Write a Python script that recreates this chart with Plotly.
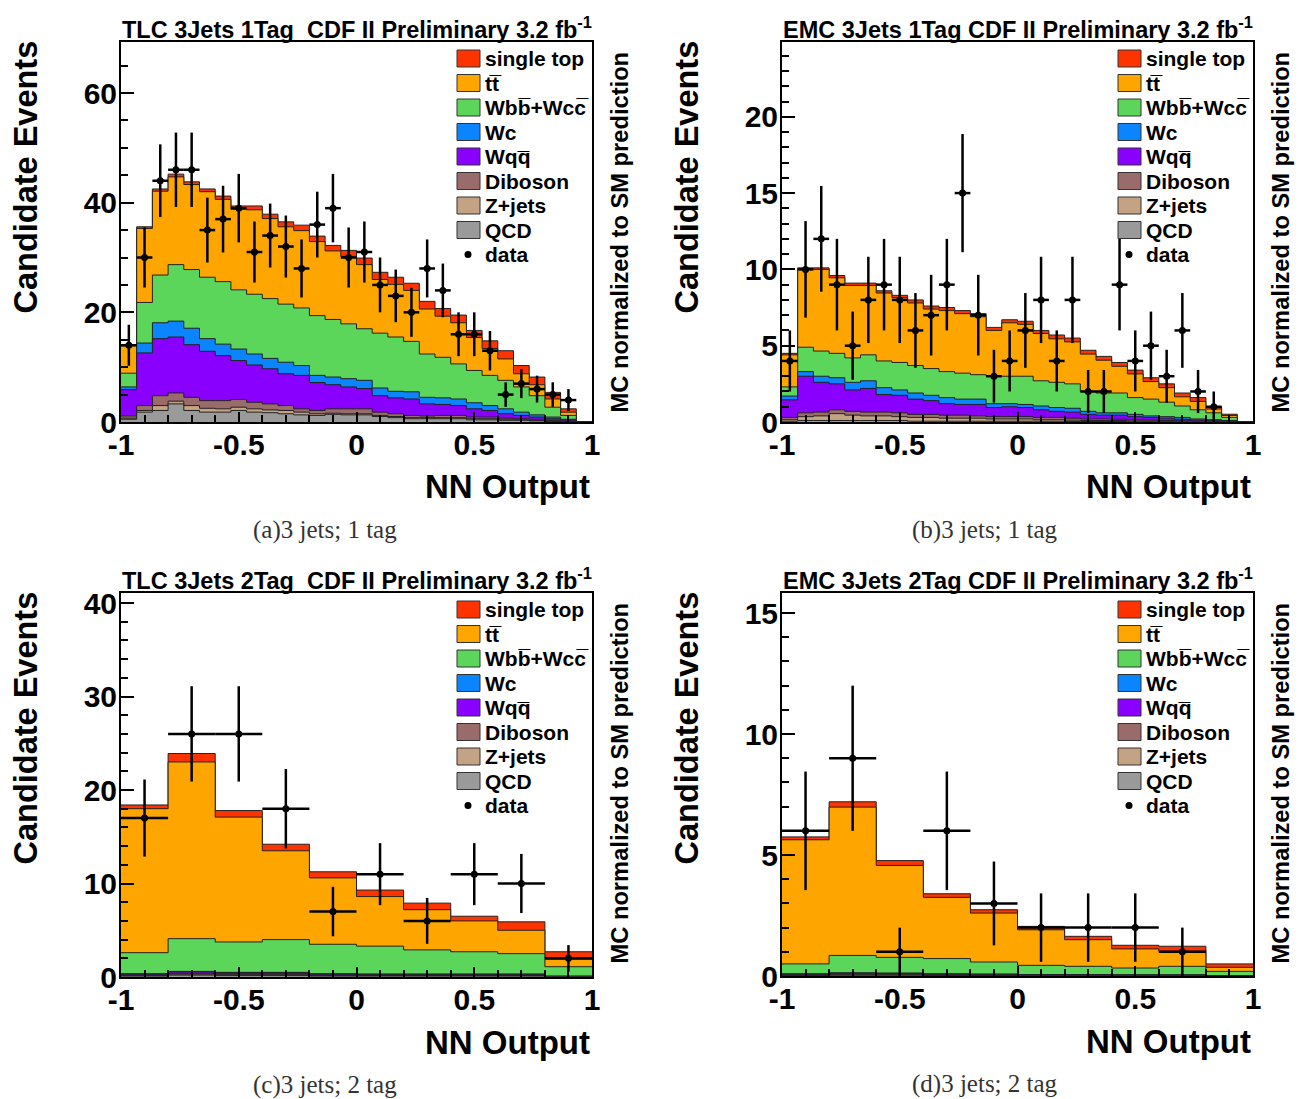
import numpy as np
import plotly.graph_objects as go

W, H = 1305, 1099

# ---------------- process order (bottom of the stack first) ----------------
PROCS = ["QCD", "Z+jets", "Diboson", "Wqq", "Wc", "Wbb", "tt", "single top"]
COLORS = {
    "QCD": "#9a9a9a",
    "Z+jets": "#c4a284",
    "Diboson": "#9a6b6b",
    "Wqq": "#8a00ff",
    "Wc": "#0a85ff",
    "Wbb": "#5bd65b",
    "tt": "#ffa500",
    "single top": "#ff3300",
}

# ---------------- (a) TLC 3 jets, 1 tag : 30 bins ----------------
a_qcd = [0.5, 1.8, 2.1, 3.3, 2.1, 1.8, 1.8, 2.1, 1.8, 1.7, 1.5, 1.3, 1.2, 1.4, 1.3,
         1.3, 1.0, 0.8, 0.6, 0.6, 0.6, 0.6, 0.4, 0.4, 0.3, 0.3, 0.2, 0.1, 0.05, 0]
a_zjets = [0.2, 0.3, 0.9, 0.5, 0.9, 0.7, 0.6, 0.6, 0.6, 0.5, 0.6, 0.5, 0.3, 0.2, 0.2,
           0.2, 0.2, 0.2, 0.2, 0.2, 0.2, 0.2, 0.2, 0.2, 0.2, 0.1, 0.1, 0.1, 0.05, 0]
a_diboson = [0.4, 0.9, 1.8, 1.5, 1.5, 1.4, 1.5, 1.4, 1.2, 1.1, 0.9, 0.6, 0.6, 0.8, 0.9,
             0.9, 0.6, 0.5, 0.4, 0.3, 0.4, 0.4, 0.3, 0.3, 0.2, 0.2, 0.2, 0.1, 0.05, 0]
a_wqq = [4.8, 9.6, 10.4, 10.2, 9.6, 9.0, 8.2, 7.1, 6.8, 6.4, 5.8, 6.1, 5.1, 4.4, 4.0,
         3.7, 3.0, 2.9, 3.0, 2.2, 2.0, 1.8, 1.5, 1.2, 0.8, 0.6, 0.4, 0.3, 0.2, 0]
a_wc = [0.5, 1.8, 2.9, 2.9, 3.0, 2.3, 2.1, 2.1, 2.0, 1.9, 2.1, 1.8, 1.3, 1.4, 1.5,
        1.5, 1.4, 1.2, 1.3, 1.2, 1.2, 1.2, 1.1, 0.9, 0.9, 0.6, 0.4, 0.3, 0.15, 0]
a_wbb = [2.5, 7.4, 8.7, 10.3, 10.7, 11.2, 11.4, 10.8, 10.9, 10.9, 10.6, 10.5, 10.9, 10.5, 10.0,
         9.4, 10.0, 9.9, 9.2, 7.9, 7.4, 6.4, 5.9, 5.5, 5.2, 4.6, 3.5, 1.8, 0.7, 0]
a_tt = [5.0, 13.5, 15.3, 16.0, 15.5, 15.6, 15.0, 14.7, 15.4, 14.6, 14.1, 14.1, 13.5, 12.5, 12.3,
        11.7, 9.8, 9.6, 9.3, 8.2, 7.5, 7.5, 6.0, 4.9, 3.9, 2.4, 2.0, 1.5, 0.6, 0]
a_stop = [0.2, 0.3, 0.4, 0.5, 0.5, 0.5, 0.6, 0.6, 0.7, 0.8, 0.9, 1.0, 1.0, 1.0, 1.1,
          1.2, 1.3, 1.3, 1.3, 1.4, 1.4, 1.4, 1.3, 1.4, 1.5, 1.5, 1.4, 1.2, 0.6, 0]
a_data = [14, 30, 44, 46, 46, 35, 37, 39, 31, 34, 32, 28, 36, 39, 30,
          31, 25, 23, 20, 28, 24, 16, 16, 13, 5, 7, 6, 5, 4, None]

# ---------------- (b) EMC 3 jets, 1 tag : 30 bins ----------------
b_qcd = [0.05, 0.1, 0.1, 0.1, 0.1, 0.1, 0.1, 0.1, 0.05, 0.05, 0.05, 0.05, 0.05, 0.05, 0.05,
         0.05, 0.05, 0.05, 0.03, 0.03, 0.03, 0.03, 0.02, 0.02, 0.02, 0.01, 0.01, 0.01, 0.01, 0]
b_zjets = [0.1, 0.25, 0.3, 0.45, 0.35, 0.3, 0.3, 0.25, 0.25, 0.25, 0.2, 0.2, 0.2, 0.15, 0.15,
           0.15, 0.1, 0.1, 0.09, 0.07, 0.07, 0.07, 0.06, 0.05, 0.04, 0.04, 0.03, 0.01, 0, 0]
b_diboson = [0.15, 0.25, 0.25, 0.25, 0.25, 0.25, 0.25, 0.25, 0.2, 0.2, 0.2, 0.2, 0.15, 0.15, 0.15,
             0.15, 0.15, 0.15, 0.13, 0.1, 0.1, 0.08, 0.07, 0.06, 0.04, 0.03, 0.02, 0.02, 0.01, 0]
b_wqq = [1.15, 2.4, 1.95, 1.7, 1.4, 1.55, 1.15, 1.15, 1.0, 0.9, 0.75, 0.7, 0.75, 0.6, 0.65,
         0.6, 0.5, 0.4, 0.4, 0.3, 0.25, 0.27, 0.2, 0.17, 0.15, 0.1, 0.07, 0.05, 0.04, 0]
b_wc = [0.25, 0.3, 0.4, 0.4, 0.5, 0.5, 0.45, 0.35, 0.4, 0.35, 0.4, 0.35, 0.35, 0.25, 0.2,
        0.2, 0.25, 0.25, 0.25, 0.2, 0.15, 0.15, 0.15, 0.1, 0.1, 0.12, 0.07, 0.06, 0.04, 0]
b_wbb = [0.6, 1.6, 1.65, 1.6, 1.6, 1.7, 1.75, 1.8, 1.8, 1.75, 1.7, 1.7, 1.6, 1.8, 1.8,
         1.85, 1.65, 1.65, 1.6, 1.3, 1.3, 1.3, 1.1, 1.1, 0.95, 0.75, 0.6, 0.45, 0.2, 0]
b_tt = [2.1, 5.1, 5.35, 4.95, 4.75, 4.55, 4.45, 4.25, 4.1, 3.9, 4.0, 3.9, 3.8, 3.0, 3.5,
        3.4, 3.1, 2.85, 2.75, 2.45, 2.15, 1.75, 1.55, 1.15, 0.95, 0.6, 0.55, 0.25, 0.13, 0]
b_stop = [0.1, 0.1, 0.1, 0.15, 0.15, 0.15, 0.15, 0.15, 0.2, 0.2, 0.2, 0.2, 0.2, 0.2, 0.2,
          0.2, 0.2, 0.25, 0.25, 0.25, 0.25, 0.25, 0.25, 0.25, 0.25, 0.25, 0.25, 0.15, 0.08, 0]
b_data = [4, 10, 12, 9, 5, 8, 9, 8, 6, 7, 9, 15, 7, 3, 4,
          6, 8, 4, 8, 2, 2, 9, 4, 5, 3, 6, 2, 1, None, None]

# ---------------- (c) TLC 3 jets, 2 tag : 10 bins ----------------
c_qcd = [0.1, 0.2, 0.15, 0.15, 0.1, 0.1, 0.1, 0.1, 0.1, 0.02]
c_zjets = [0.05, 0.1, 0.1, 0.1, 0.05, 0.05, 0.05, 0.05, 0.05, 0.01]
c_diboson = [0.05, 0.1, 0.1, 0.1, 0.05, 0.05, 0.05, 0.05, 0.05, 0.02]
c_wqq = [0.1, 0.15, 0.1, 0.1, 0.1, 0.08, 0.08, 0.08, 0.08, 0.03]
c_wc = [0.05, 0.05, 0.05, 0.05, 0.05, 0.04, 0.04, 0.04, 0.04, 0.02]
c_wbb = [2.25, 3.5, 3.25, 3.5, 3.15, 2.98, 2.58, 2.38, 2.18, 1.0]
c_tt = [15.4, 18.9, 13.35, 9.5, 7.1, 5.3, 4.3, 3.3, 2.5, 0.8]
c_stop = [0.4, 0.9, 0.7, 0.7, 0.65, 0.7, 0.7, 0.5, 0.9, 0.8]
c_data = [17, 26, 26, 18, 7, 11, 6, 11, 10, 2]

# ---------------- (d) EMC 3 jets, 2 tag : 10 bins ----------------
d_qcd = [0.02, 0.03, 0.03, 0.02, 0.02, 0.01, 0.01, 0.01, 0.01, 0.0]
d_zjets = [0.01, 0.02, 0.02, 0.01, 0.01, 0.01, 0.01, 0.01, 0.01, 0.0]
d_diboson = [0.02, 0.03, 0.03, 0.02, 0.02, 0.01, 0.01, 0.01, 0.01, 0.01]
d_wqq = [0.03, 0.04, 0.03, 0.03, 0.02, 0.02, 0.02, 0.01, 0.01, 0.01]
d_wc = [0.01, 0.01, 0.01, 0.01, 0.01, 0.01, 0.01, 0.01, 0.01, 0.0]
d_wbb = [0.41, 0.72, 0.65, 0.63, 0.5, 0.38, 0.34, 0.28, 0.35, 0.17]
d_tt = [5.13, 6.13, 3.8, 2.53, 2.02, 1.47, 1.1, 0.79, 0.62, 0.17]
d_stop = [0.12, 0.22, 0.2, 0.15, 0.14, 0.14, 0.14, 0.15, 0.21, 0.14]
d_data = [6, 9, 1, 6, 3, 2, 2, 2, 1, None]

LEGEND_LABELS = [
    ("single top", "single top"),
    ("tt", "tt\u0305"),
    ("Wbb", "Wbb\u0305+Wcc\u0305"),
    ("Wc", "Wc"),
    ("Wqq", "Wqq\u0305"),
    ("Diboson", "Diboson"),
    ("Z+jets", "Z+jets"),
    ("QCD", "QCD"),
    ("data", "data"),
]

# panel frames in pixels (left, right, top, bottom) and axis settings
PANELS = [
    dict(frame=(121, 592, 42, 422), ymax=69.3, ymaj=20, ymin=5,
         title="TLC 3Jets 1Tag\u00a0\u00a0CDF II Preliminary 3.2 fb<sup>-1</sup>",
         caption="(a)3 jets; 1 tag",
         stack=[a_qcd, a_zjets, a_diboson, a_wqq, a_wc, a_wbb, a_tt, a_stop], data=a_data),
    dict(frame=(782, 1253, 42, 422), ymax=24.9, ymaj=5, ymin=1,
         title="EMC 3Jets 1Tag CDF II Preliminary 3.2 fb<sup>-1</sup>",
         caption="(b)3 jets; 1 tag",
         stack=[b_qcd, b_zjets, b_diboson, b_wqq, b_wc, b_wbb, b_tt, b_stop], data=b_data),
    dict(frame=(121, 592, 593, 977), ymax=41.07, ymaj=10, ymin=2,
         title="TLC 3Jets 2Tag\u00a0\u00a0CDF II Preliminary 3.2 fb<sup>-1</sup>",
         caption="(c)3 jets; 2 tag",
         stack=[c_qcd, c_zjets, c_diboson, c_wqq, c_wc, c_wbb, c_tt, c_stop], data=c_data),
    dict(frame=(782, 1253, 593, 976), ymax=15.83, ymaj=5, ymin=1,
         title="EMC 3Jets 2Tag CDF II Preliminary 3.2 fb<sup>-1</sup>",
         caption="(d)3 jets; 2 tag",
         stack=[d_qcd, d_zjets, d_diboson, d_wqq, d_wc, d_wbb, d_tt, d_stop], data=d_data),
]

SANS = "Liberation Sans"


def px(x):
    return x / W


def py(y):
    return 1 - y / H


fig = go.Figure()
shapes = []
annotations = []

for i, p in enumerate(PANELS):
    n = i + 1
    xa = "x" if n == 1 else f"x{n}"
    ya = "y" if n == 1 else f"y{n}"
    left, right, top, bottom = p["frame"]

    comps = np.array(p["stack"], dtype=float)
    nbins = comps.shape[1]
    edges = np.linspace(-1, 1, nbins + 1)
    centers = 0.5 * (edges[:-1] + edges[1:])
    cum = np.cumsum(comps, axis=0)

    # stacked histogram: draw the cumulative sums from the top down
    for k in range(len(PROCS) - 1, -1, -1):
        vals = cum[k]
        yy = np.append(vals, vals[-1])
        fig.add_trace(go.Scatter(
            x=edges, y=yy, mode="lines", line=dict(shape="hv", color="#222222", width=1),
            fill="tozeroy", fillcolor=COLORS[PROCS[k]], xaxis=xa, yaxis=ya,
            showlegend=False, hoverinfo="skip"))

    # data points with Poisson errors
    dvals = np.array([np.nan if v is None else v for v in p["data"]], dtype=float)
    mask = ~np.isnan(dvals)
    half = (edges[1] - edges[0]) / 2
    fig.add_trace(go.Scatter(
        x=centers[mask], y=dvals[mask], mode="markers",
        marker=dict(color="black", size=7),
        error_y=dict(type="data", array=np.sqrt(dvals[mask]), thickness=2.5, width=0, color="black"),
        error_x=dict(type="constant", value=half, thickness=2.5, width=0, color="black"),
        xaxis=xa, yaxis=ya, showlegend=False, hoverinfo="skip"))

    axis_common = dict(showline=True, linecolor="black", linewidth=2, mirror=True,
                       showgrid=False, zeroline=False, ticks="inside", tickcolor="black",
                       tickwidth=2, automargin=False,
                       tickfont=dict(family=SANS, size=30, color="black", weight="bold"))
    fig.update_layout(**{
        ("xaxis" if n == 1 else f"xaxis{n}"): dict(
            domain=[px(left), px(right)], range=[-1, 1], anchor=ya,
            tickvals=[-1, -0.5, 0, 0.5, 1], ticktext=["-1", "-0.5", "0", "0.5", "1"],
            ticklen=10, ticklabelstandoff=-5,
            minor=dict(dtick=0.1, ticks="inside", ticklen=7, tickcolor="black", tickwidth=1.5),
            **axis_common),
        ("yaxis" if n == 1 else f"yaxis{n}"): dict(
            domain=[py(bottom), py(top)], range=[0, p["ymax"]], anchor=xa,
            dtick=p["ymaj"], tick0=0, ticklen=13, ticklabelstandoff=-4,
            minor=dict(dtick=p["ymin"], ticks="inside", ticklen=7, tickcolor="black", tickwidth=1.5),
            **axis_common),
    })

    # title above the frame
    annotations.append(dict(
        x=px(left - 1), y=py(top - 14), xref="paper", yref="paper", xanchor="left",
        yanchor="middle", showarrow=False, text=p["title"],
        font=dict(family=SANS, size=23.5, color="black", weight="bold")))
    # x title
    annotations.append(dict(
        x=px(right), y=py(bottom + 65), xref="paper", yref="paper", xanchor="right",
        yanchor="middle", showarrow=False, text="NN Output",
        font=dict(family=SANS, size=33, color="black", weight="bold")))
    # y title
    annotations.append(dict(
        x=px(left - 96), y=py(top - 3), xref="paper", yref="paper", xanchor="center",
        yanchor="top", showarrow=False, text="Candidate Events", textangle=-90,
        font=dict(family=SANS, size=32.5, color="black", weight="bold")))
    # normalisation note at the right
    annotations.append(dict(
        x=px(right + 27), y=py(top + 8), xref="paper", yref="paper", xanchor="center",
        yanchor="top", showarrow=False, text="MC normalized to SM prediction", textangle=-90,
        font=dict(family=SANS, size=23.7, color="black", weight="bold")))
    # caption
    annotations.append(dict(
        x=px((left + right) / 2 - 32), y=py(bottom + 108), xref="paper", yref="paper",
        xanchor="center", yanchor="middle", showarrow=False, text=p["caption"],
        font=dict(family="Liberation Serif", size=25, color="#333333")))

    # legend drawn inside the frame
    for j, (key, label) in enumerate(LEGEND_LABELS):
        cy = top + 16.5 + 24.5 * j
        if key == "data":
            shapes.append(dict(type="circle", xref="paper", yref="paper",
                               x0=px(right - 127.5), x1=px(right - 120.5),
                               y0=py(cy + 3.5), y1=py(cy - 3.5),
                               fillcolor="black", line=dict(width=0)))
        else:
            shapes.append(dict(type="rect", xref="paper", yref="paper",
                               x0=px(right - 135), x1=px(right - 112),
                               y0=py(cy + 8.5), y1=py(cy - 8.5),
                               fillcolor=COLORS[key], line=dict(color="#333333", width=1)))
        annotations.append(dict(
            x=px(right - 109), y=py(cy), xref="paper", yref="paper", xanchor="left",
            yanchor="middle", showarrow=False, text=label,
            font=dict(family=SANS, size=21, color="black", weight="bold")))

fig.update_layout(
    template="none",
    width=W, height=H, autosize=False,
    margin=dict(l=0, r=0, t=0, b=0, pad=0),
    paper_bgcolor="white", plot_bgcolor="white",
    shapes=shapes, annotations=annotations, showlegend=False,
)

fig.write_html("out.html")
